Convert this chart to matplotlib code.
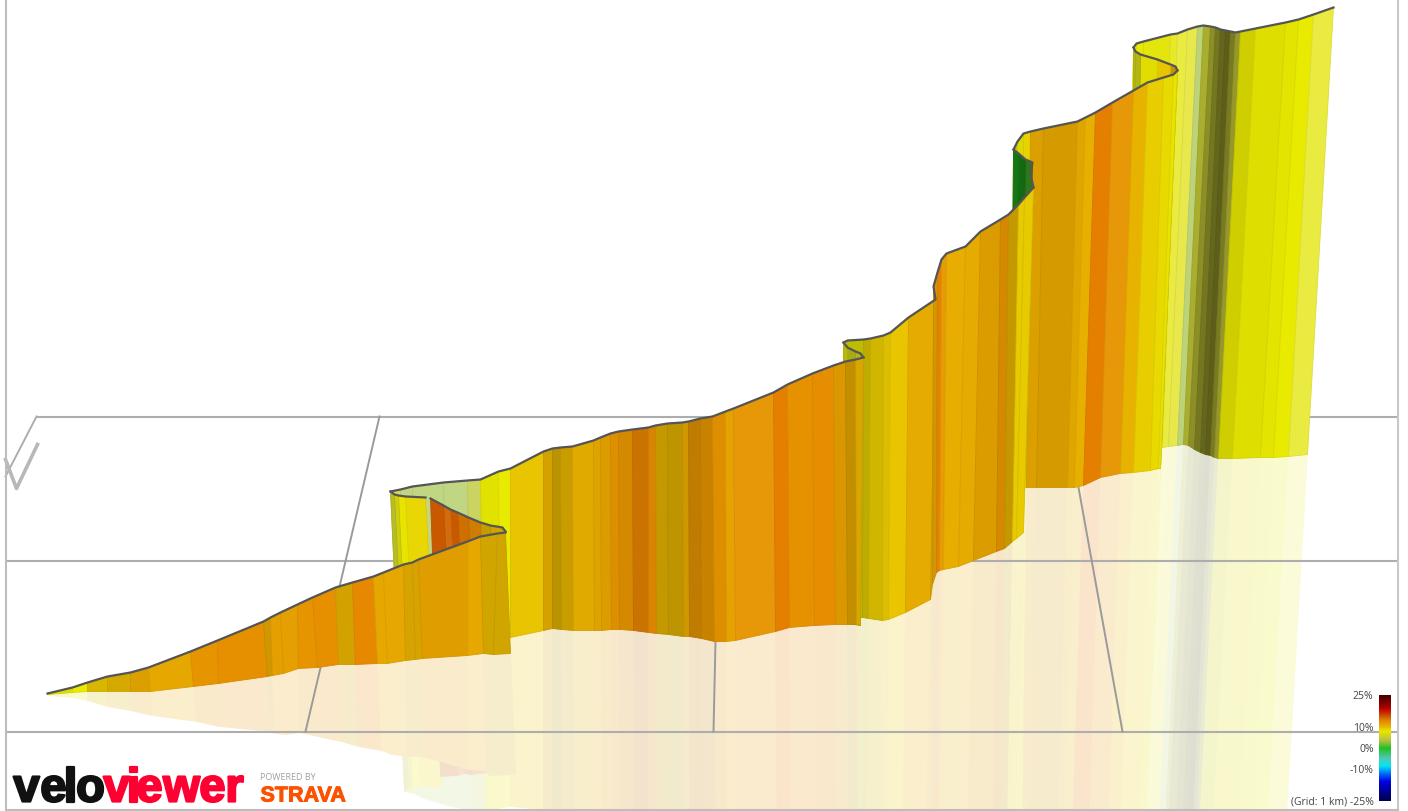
import numpy as np
import matplotlib
matplotlib.use("Agg")
import matplotlib.pyplot as plt
import matplotlib.patheffects as pe
from matplotlib.collections import PolyCollection
from matplotlib.colors import LinearSegmentedColormap, to_rgb

# Route runs in projected screen pixels.
# top = ribbon top edge, base = where the ribbon meets the ground
# grad = slope % of each strip, shade = lighting of each strip

# last run, to the summit
r6_top_x = [1133, 1136, 1143, 1170, 1177, 1187, 1197, 1203, 1210, 1215, 1220, 1225, 1230, 1235, 1240, 1255, 1285, 1298, 1313, 1333]
r6_top_y = [48, 44, 42, 35, 34, 30, 27, 26, 27, 28, 30, 31, 32, 33, 32, 29, 23, 20, 15, 8]
r6_base_x = [1122, 1126, 1132, 1156, 1162, 1168, 1177, 1183, 1188, 1194, 1200, 1205, 1210, 1214, 1218, 1232, 1260, 1273, 1288, 1307]
r6_base_y = [470, 469, 468, 450, 448, 447, 446, 445, 446, 450, 453, 455, 456, 458, 459, 459, 458, 458, 457, 455]
r6_grad = [7.6, 7.6, 7.3, 7.3, 7.3, 7, 3, 5, 5, 5, 5, 5, 5, 5, 7, 7, 7.3, 7.6, 7.3]
r6_shade = [1, 1, 1.05, 1.15, 1.25, 1.3, 1.3, 0.85, 0.7, 0.58, 0.5, 0.46, 0.6, 0.75, 0.93, 1, 1, 1, 1.25]

# top hairpin, coming back left
hp2_top_x = [1177, 1175, 1170, 1157, 1140, 1135, 1133]
hp2_top_y = [71, 67, 65, 60, 55, 52, 48]
hp2_base_x = [1160, 1158, 1155, 1145, 1135, 1133, 1132]
hp2_base_y = [469, 469, 469, 470, 470, 470, 470]
hp2_grad = [10.5, 10.5, 9.5, 8, 6, 6]
hp2_shade = [0.85, 0.85, 1, 0.97, 0.85, 0.85]

# wall up to the top hairpin
r5b_top_x = [1013, 1017, 1023, 1030, 1043, 1077, 1085, 1095, 1112, 1133, 1147, 1163, 1173, 1177]
r5b_top_y = [150, 142, 134, 132, 129, 122, 118, 113, 103, 91, 83, 78, 75, 71]
r5b_base_x = [1010, 1014, 1020, 1026, 1036, 1067, 1074, 1083, 1100, 1120, 1133, 1150, 1158, 1160]
r5b_base_y = [490, 490, 489, 488, 488, 488, 488, 486, 478, 474, 473, 471, 469, 469]
r5b_grad = [6, 8, 9, 11, 11, 10.8, 10.5, 13.2, 12, 10.3, 9.2, 8.6, 8]
r5b_shade = [0.9, 0.95, 1, 0.95, 0.92, 0.97, 1, 1, 1.03, 1, 1, 1, 1]

# short descent, the green bit
r5g_top_x = [1033, 1030, 1032, 1025, 1018, 1013]
r5g_top_y = [188, 175, 163, 160, 154, 150]
r5g_base_x = [1024, 1022, 1022, 1018, 1014, 1010]
r5g_base_y = [490, 490, 490, 490, 490, 490]
r5g_grad = [5, 4, 1, 0, 0]
r5g_shade = [0.8, 0.7, 0.62, 0.55, 0.62]

# wall after the middle hairpin
r5a_top_x = [843, 847, 863, 870, 883, 890, 908, 935, 933, 937, 941, 946, 965, 980, 1000, 1008, 1018, 1024, 1033]
r5a_top_y = [343, 341, 340, 339, 336, 333, 318, 300, 287, 273, 260, 254, 247, 232, 220, 215, 205, 198, 188]
r5a_base_x = [843, 847, 862, 868, 882, 888, 905, 930, 932, 936, 939, 943, 958, 973, 996, 1004, 1012, 1016, 1023]
r5a_base_y = [620, 620, 618, 619, 621, 620, 613, 600, 585, 573, 571, 570, 567, 561, 552, 549, 542, 539, 533]
r5a_grad = [7, 7, 9, 9.3, 9.4, 9.5, 10.8, 11, 11, 13, 11.8, 10.7, 10.8, 11.2, 12, 10.3, 9.3, 9.3]
r5a_shade = [0.9, 0.85, 0.82, 0.9, 0.95, 1, 1, 0.95, 0.9, 1, 1.02, 1, 1, 0.95, 0.92, 0.85, 1, 1]

# middle hairpin, coming back left
hp1_top_x = [863, 860, 855, 847, 843]
hp1_top_y = [358, 354, 352, 348, 343]
hp1_base_x = [860, 858, 855, 848, 845]
hp1_base_y = [626, 626, 625, 624, 622]
hp1_grad = [6, 6, 6, 6.5]
hp1_shade = [0.85, 0.85, 0.8, 0.85]

# long middle wall, pale part starts behind the first hairpin
r3_top_x = [390, 400, 412, 443, 467, 480, 498, 510, 543, 552, 560, 572, 593, 600, 610, 618, 632, 648, 655, 667,
            682, 688, 700, 712, 725, 733, 773, 787, 812, 833, 845, 855, 863]
r3_top_y = [492, 490, 487, 483, 481, 480, 472, 469, 452, 449, 448, 447, 441, 438, 434, 432, 430, 428, 426, 424,
            423, 422, 419, 417, 412, 409, 393, 385, 374, 366, 362, 360, 358]
r3_base_x = [397, 407, 418, 447, 470, 483, 500, 510, 543, 552, 561, 573, 594, 601, 611, 619, 633, 648, 656, 668,
             683, 689, 701, 714, 726, 735, 775, 789, 814, 835, 847, 856, 860]
r3_base_y = [642, 642, 643, 645, 646, 646, 640, 638, 631, 629, 630, 631, 631, 631, 630, 630, 631, 633, 634, 635,
             637, 637, 639, 642, 642, 641, 632, 628, 626, 625, 625, 625, 626]
r3_grad = [5, 3, 3, 3, 4.5, 7.2, 7.6, 9.5, 10.5, 10, 10.2, 10.5, 11, 11.2, 12, 12, 13, 12.5, 10.3, 10.2,
           11, 12, 12, 12, 11.3, 12, 13.2, 12.2, 12.4, 11.5, 11, 10.3]
r3_shade = [1.2, 1.35, 1.35, 1.35, 1.2, 1, 1, 1, 0.92, 0.8, 0.87, 0.97, 0.97, 0.95, 0.96, 0.92, 0.88, 0.95, 0.85, 0.82,
            0.9, 0.83, 0.87, 0.96, 1, 1.03, 1, 1, 1, 0.95, 0.85, 0.93]

# first hairpin, yellow part
r2b_top_x = [425, 405, 398, 394, 390]
r2b_top_y = [498, 497, 496, 495, 492]
r2b_base_x = [433, 412, 405, 401, 397]
r2b_base_y = [643, 642, 642, 642, 642]
r2b_grad = [8.8, 8, 6.5, 5.5]
r2b_shade = [1.02, 1, 0.95, 0.9]

# first hairpin, orange triangle
r2_top_x = [505, 502, 490, 480, 468, 457, 450, 443, 430]
r2_top_y = [532, 528, 526, 523, 518, 513, 510, 506, 499]
r2_base_x = [506, 504, 494, 485, 474, 464, 457, 450, 435]
r2_base_y = [651, 651, 649, 648, 646, 644, 642, 641, 638]
r2_grad = [10.5, 10.5, 10, 12.5, 13.5, 15, 14.5, 15]
r2_shade = [0.92, 0.92, 0.85, 0.9, 0.92, 1, 1.05, 1]

# start of the climb
r1_top_x = [47, 72, 87, 107, 130, 148, 190, 217, 263, 270, 280, 297, 312, 335, 352, 373, 383, 403, 412, 418, 467, 480, 497, 505]
r1_top_y = [694, 688, 683, 677, 673, 668, 652, 641, 622, 618, 613, 605, 598, 588, 583, 577, 573, 565, 563, 560, 542, 537, 534, 533]
r1_base_x = [47, 72, 87, 107, 130, 150, 193, 218, 267, 272, 283, 298, 317, 338, 355, 377, 387, 405, 415, 422, 467, 483, 493, 510]
r1_base_y = [695, 693, 692, 692, 692, 692, 687, 684, 677, 676, 674, 669, 668, 665, 665, 664, 664, 661, 660, 659, 656, 654, 655, 654]
r1_grad = [7, 7.6, 9.5, 10, 11, 11, 12, 12.3, 11, 11.5, 11.5, 12, 12.3, 10.5, 12.6, 11, 11, 10.5, 10.5, 11.3, 11, 10, 10]
r1_shade = [1, 1, 0.93, 0.92, 0.95, 1, 1, 1, 0.9, 1, 1, 1, 1, 0.92, 1, 1, 1, 0.93, 0.93, 0.97, 1, 0.9, 0.9]

# slope colour scale
slope_nodes = [-25, -16, -12, -8.5, -5, 0, 3, 5, 7, 7.6, 9, 10, 11, 12, 13.2, 15, 17, 19, 25]
slope_colors = ["#00004a", "#0000e0", "#0070ff", "#00e8f0", "#50c8b8", "#20c020", "#a0c040", "#c8cc38", "#dede00",
                "#e8ea00", "#e8d400", "#e8b800", "#e6a800", "#e69500", "#e68000", "#c85a00", "#d02000", "#b00000", "#400000"]
slope_ticks = [25, 10, 0, -10, -25]
slope_labels = ["25%", "10%", "0%", "-10%", "(Grid: 1 km) -25%"]

# ground grid
grid_h_y = [417, 561, 732]
grid_h_x0 = [36, 5, 5]
grid_slant_x0 = [379, 720, 1078]
grid_slant_y0 = [417, 417, 488]
grid_slant_x1 = [305, 713, 1122]
grid_slant_y1 = [732, 732, 732]

# logo letters
logo_velo = list("velo")
logo_velo_x = [26, 53, 70, 90]
logo_viewer = list("viewer")
logo_viewer_x = [116, 133, 149, 181, 212, 234]

# draw order, back to front
runs = [
    (r6_top_x, r6_top_y, r6_base_x, r6_base_y, r6_grad, r6_shade),
    (hp2_top_x, hp2_top_y, hp2_base_x, hp2_base_y, hp2_grad, hp2_shade),
    (r5b_top_x, r5b_top_y, r5b_base_x, r5b_base_y, r5b_grad, r5b_shade),
    (r5g_top_x, r5g_top_y, r5g_base_x, r5g_base_y, r5g_grad, r5g_shade),
    (r5a_top_x, r5a_top_y, r5a_base_x, r5a_base_y, r5a_grad, r5a_shade),
    (hp1_top_x, hp1_top_y, hp1_base_x, hp1_base_y, hp1_grad, hp1_shade),
    (r3_top_x, r3_top_y, r3_base_x, r3_base_y, r3_grad, r3_shade),
    (r2b_top_x, r2b_top_y, r2b_base_x, r2b_base_y, r2b_grad, r2b_shade),
    (r2_top_x, r2_top_y, r2_base_x, r2_base_y, r2_grad, r2_shade),
    (r1_top_x, r1_top_y, r1_base_x, r1_base_y, r1_grad, r1_shade),
]

cmap = LinearSegmentedColormap.from_list(
    "slope", [((v + 25) / 50, c) for v, c in zip(slope_nodes, slope_colors)], N=512)


def strip_color(grad, shade):
    rgb = np.array(to_rgb(cmap((grad + 25) / 50)))
    if shade <= 1:
        return rgb * shade
    return rgb + (1 - rgb) * (shade - 1)


def strip_polys(x0, y0, x1, y1):
    return [[(x0[i], y0[i]), (x0[i + 1], y0[i + 1]), (x1[i + 1], y1[i + 1]), (x1[i], y1[i])]
            for i in range(len(x0) - 1)]


fig = plt.figure(figsize=(14.08, 8.12), dpi=100)
ax = fig.add_axes([0, 0, 1, 1])

grey = "#adadad"

# grid sits over the reflection, under the walls
for y, x0 in zip(grid_h_y, grid_h_x0):
    ax.plot([x0, 1397], [y, y], color=grey, lw=1.5, zorder=2, solid_capstyle="butt")
for x0, y0, x1, y1 in zip(grid_slant_x0, grid_slant_y0, grid_slant_x1, grid_slant_y1):
    ax.plot([x0, x1], [y0, y1], color="#9a9a9a", lw=1.4, zorder=2)
ax.plot([36, 5], [417, 477], color=grey, lw=1.4, zorder=2)
ax.plot([5, 16, 37], [460, 489, 445], color="#b8b8b8", lw=2.6, zorder=2)

z = 3
for top_x, top_y, base_x, base_y, grad, shade in runs:
    colors = np.array([strip_color(g, s) for g, s in zip(grad, shade)])

    # reflection in the ground, mirrored about the base line
    tx, ty, bx, by = map(np.array, (top_x, top_y, base_x, base_y))
    pale = colors * 0.2 + 0.8
    ax.add_collection(PolyCollection(strip_polys(bx, by, 2 * bx - tx, 2 * by - ty),
                                     facecolors=pale, edgecolors=pale, linewidths=0.5, zorder=1))

    ax.add_collection(PolyCollection(strip_polys(tx, ty, bx, by), facecolors=colors,
                                     edgecolors=colors * 0.94, linewidths=0.6, zorder=z))
    ax.plot(tx, ty, color="#555555", lw=1.6, zorder=z + 0.5, solid_joinstyle="round")
    z += 1

# frame
ax.plot([5, 5], [0, 810], color="#bdbdbd", lw=1.5, zorder=20)
ax.plot([1397, 1397], [0, 810], color="#c8c8c8", lw=1.5, zorder=20)
ax.plot([5, 1397], [810, 810], color="#bdbdbd", lw=1.5, zorder=20)

# slope legend
ax.imshow(np.linspace(25, -25, 256)[:, None], extent=[1378, 1390, 802, 696], cmap=cmap, vmin=-25, vmax=25,
          aspect="auto", zorder=21)
for v, label in zip(slope_ticks, slope_labels):
    ax.text(1373, 749 - v * 2.12, label, ha="right", va="center", fontsize=7.5, color="#444444",
            family="Open Sans", zorder=21)

# logo
stroke_k = [pe.withStroke(linewidth=1.6, foreground="#111111")]
stroke_r = [pe.withStroke(linewidth=1.6, foreground="#ff0033")]
stroke_s = [pe.withStroke(linewidth=0.7, foreground="#fc5200")]
for ch, x in zip(logo_velo, logo_velo_x):
    ax.text(x, 802, ch, ha="center", va="baseline", fontsize=34, fontweight="bold", color="#111111",
            family="Liberation Sans", path_effects=stroke_k, zorder=22)
for ch, x in zip(logo_viewer, logo_viewer_x):
    ax.text(x, 802, ch, ha="center", va="baseline", fontsize=34, fontweight="bold", color="#ff0033",
            family="Liberation Sans", path_effects=stroke_r, zorder=22)
ax.text(260, 777, "POWERED BY", ha="left", va="center", fontsize=6.5, color="#a0a0a0", family="Open Sans", zorder=22)
ax.text(260, 802, "STRAVA", ha="left", va="baseline", fontsize=15.5, fontweight="bold", color="#fc5200",
        family="Liberation Sans", path_effects=stroke_s, zorder=22)

ax.set_xlim(-0.5, 1407.5)
ax.set_ylim(811.5, -0.5)
ax.axis("off")

fig.savefig("out.png", dpi=100, facecolor="white")
